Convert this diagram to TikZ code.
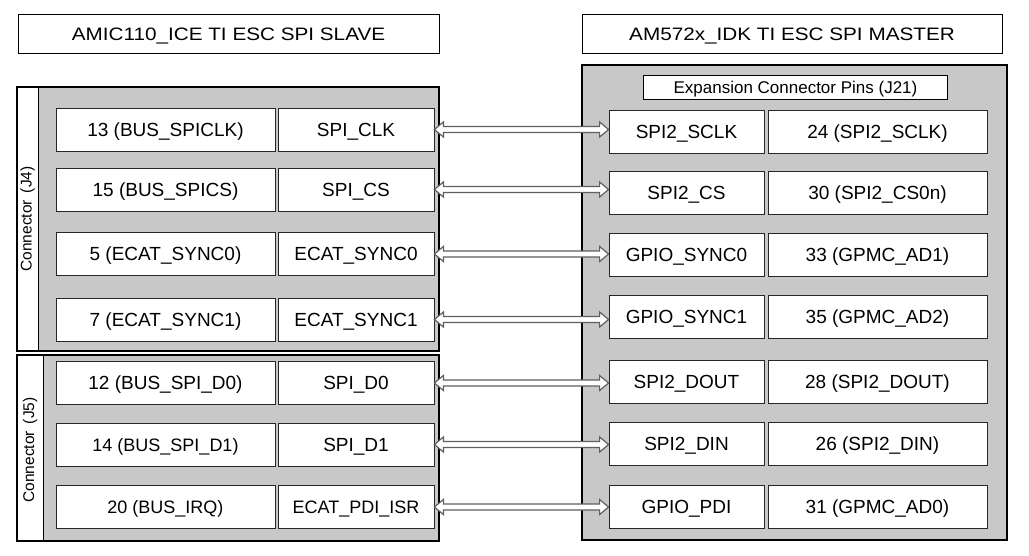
\documentclass[tikz,border=0pt]{standalone}
\usepackage{fontspec}
\setmainfont{Liberation Sans}
\usetikzlibrary{calc}
\definecolor{panelgray}{RGB}{200,200,200}
\definecolor{arrowgray}{RGB}{95,95,95}
\newcommand{\dblarrow}[2]{%
  \draw[connarrow] (#1.east) -- ($(#1.east)+(9,-7.5)$) -- ($(#1.east)+(9,-3)$)
    -- ($(#2.west |- #1.east)+(-9,-3)$) -- ($(#2.west |- #1.east)+(-9,-7.5)$)
    -- (#2.west |- #1.east) -- ($(#2.west |- #1.east)+(-9,7.5)$)
    -- ($(#2.west |- #1.east)+(-9,3)$) -- ($(#1.east)+(9,3)$)
    -- ($(#1.east)+(9,7.5)$) -- cycle;}
\begin{document}
\begin{tikzpicture}[x=1pt,y=-1pt,
  titlebox/.style={draw=black, line width=0.8pt, fill=white, inner sep=0pt,
    text height=13, text depth=0pt, font=\fontsize{18}{21}\selectfont},
  panel/.style={draw=black, line width=2pt, fill=panelgray},
  pinbox/.style={draw=black!85, line width=0.8pt, fill=white, inner sep=0pt,
    minimum height=43, text height=13.7, text depth=0pt, font=\fontsize{19}{22}\selectfont},
  lefta/.style={pinbox, minimum width=219},
  leftb/.style={pinbox, minimum width=156},
  righta/.style={pinbox, minimum width=155},
  rightb/.style={pinbox, minimum width=219},
  smalltxt/.style={text height=13, font=\fontsize{18}{21}\selectfont},
  connlabel/.style={rotate=90, inner sep=0pt, font=\fontsize{15.5}{18}\selectfont},
  connarrow/.style={draw=arrowgray, line width=1.2pt, fill=white, line join=miter}
]
\useasboundingbox (0,0) rectangle (1029,555);

% titles
\node[titlebox, minimum width=421, minimum height=39] (tl) at (228.5,33.5)
  {\scalebox{1.15}[1]{AMIC110\_ICE TI ESC SPI SLAVE}};
\node[titlebox, minimum width=420, minimum height=39] (tr) at (792,33.5)
  {\scalebox{1.15}[1]{AM572x\_IDK TI ESC SPI MASTER}};

% left panels
\fill[panelgray] (17,87) rectangle (439,351);
\fill[white] (17,87) rectangle (38,351);
\draw[line width=0.8pt] (38,87) -- (38,351);
\draw[line width=2pt] (17,87) rectangle (439,351);
\node[connlabel] (j4lbl) at (27.5,219) {Connector\hspace{0.45em}(J4)};

\fill[panelgray] (17,355) rectangle (439,541);
\fill[white] (17,355) rectangle (43,541);
\draw[line width=0.8pt] (43,355) -- (43,541);
\draw[line width=2pt] (17,355) rectangle (439,541);
\node[connlabel] (j5lbl) at (30,450) {Connector\hspace{0.45em}(J5)};

% right panel
\draw[panel] (582,65) rectangle (1007,540);
\node[draw=black, line width=0.8pt, fill=white, minimum width=304, minimum height=24,
  inner sep=0pt, text height=12, text depth=0pt, font=\fontsize{17}{20}\selectfont] (exp) at (795.5,87)
  {Expansion Connector Pins (J21)};

% left boxes
\node[lefta] (la1) at (165.5,129.5) {13 (BUS\_SPICLK)};
\node[leftb] (lb1) at (356,129.5) {SPI\_CLK};
\node[lefta] (la2) at (165.5,189.5) {15 (BUS\_SPICS)};
\node[leftb] (lb2) at (356,189.5) {SPI\_CS};
\node[lefta] (la3) at (165.5,254) {5 (ECAT\_SYNC0)};
\node[leftb] (lb3) at (356,254) {ECAT\_SYNC0};
\node[lefta] (la4) at (165.5,319.5) {7 (ECAT\_SYNC1)};
\node[leftb] (lb4) at (356,319.5) {ECAT\_SYNC1};
\node[lefta] (la5) at (165.5,383) {12 (BUS\_SPI\_D0)};
\node[leftb] (lb5) at (356,383) {SPI\_D0};
\node[lefta, smalltxt] (la6) at (165.5,444.5) {14 (BUS\_SPI\_D1)};
\node[leftb] (lb6) at (356,444.5) {SPI\_D1};
\node[lefta, smalltxt] (la7) at (165.5,507) {20 (BUS\_IRQ)};
\node[leftb, smalltxt] (lb7) at (356,507) {ECAT\_PDI\_ISR};

% right boxes
\node[righta] (ra1) at (686.5,131.5) {SPI2\_SCLK};
\node[rightb] (rb1) at (877.5,131.5) {24 (SPI2\_SCLK)};
\node[righta] (ra2) at (686.5,192.5) {SPI2\_CS};
\node[rightb] (rb2) at (877.5,192.5) {30 (SPI2\_CS0n)};
\node[righta] (ra3) at (686.5,254.5) {GPIO\_SYNC0};
\node[rightb] (rb3) at (877.5,254.5) {33 (GPMC\_AD1)};
\node[righta] (ra4) at (686.5,316.5) {GPIO\_SYNC1};
\node[rightb] (rb4) at (877.5,316.5) {35 (GPMC\_AD2)};
\node[righta] (ra5) at (686.5,381.5) {SPI2\_DOUT};
\node[rightb] (rb5) at (877.5,381.5) {28 (SPI2\_DOUT)};
\node[righta] (ra6) at (686.5,443.5) {SPI2\_DIN};
\node[rightb] (rb6) at (877.5,443.5) {26 (SPI2\_DIN)};
\node[righta] (ra7) at (686.5,506.5) {GPIO\_PDI};
\node[rightb] (rb7) at (877.5,506.5) {31 (GPMC\_AD0)};

% connectors
\dblarrow{lb1}{ra1}
\dblarrow{lb2}{ra2}
\dblarrow{lb3}{ra3}
\dblarrow{lb4}{ra4}
\dblarrow{lb5}{ra5}
\dblarrow{lb6}{ra6}
\dblarrow{lb7}{ra7}
\end{tikzpicture}
\end{document}
